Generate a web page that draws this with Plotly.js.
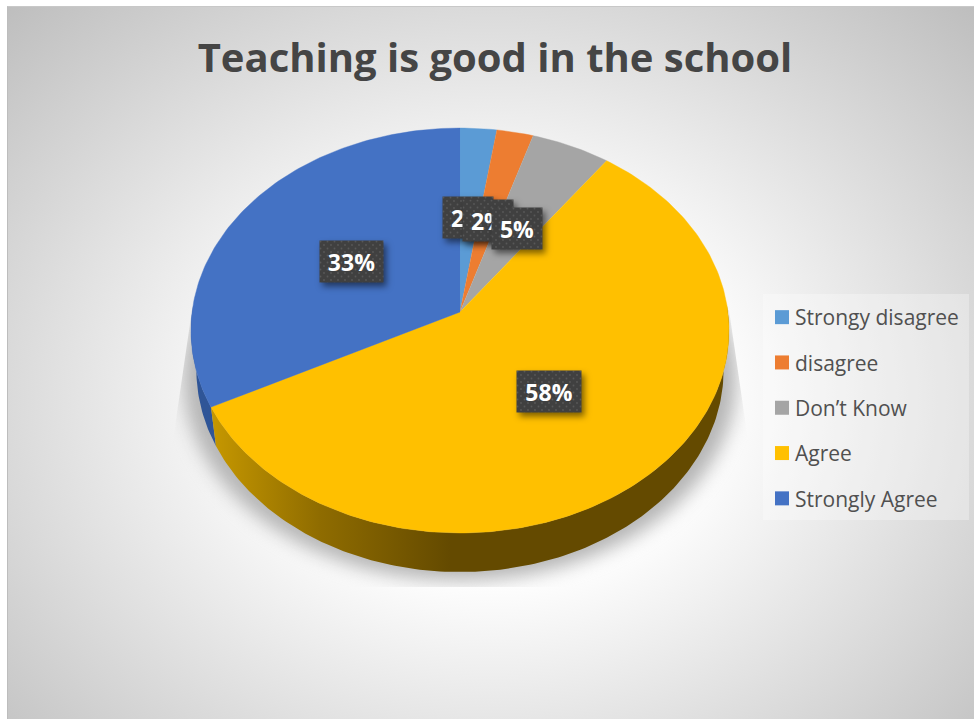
<!DOCTYPE html>
<html>
<head>
<meta charset="utf-8">
<script src="https://cdn.plot.ly/plotly-3.0.1.min.js"></script>
<style>
html,body{margin:0;padding:0;background:#fff;overflow:hidden}
#bg{position:absolute;left:7px;top:6px;width:967px;height:713px;border-left:1.5px solid #bdbdbd;border-top:1.5px solid #c8c8c8;box-sizing:border-box;
background:radial-gradient(ellipse farthest-corner at 50% 55%,#ffffff 0%,#ffffff 32%,#bebebe 100%)}
#chart{position:absolute;left:0;top:0;width:974px;height:719px}
</style>
</head>
<body>
<div id="bg"></div>
<div id="chart"></div>
<script>
// Chart data
const categories = ['Strongy disagree', 'disagree', 'Don’t Know', 'Agree', 'Strongly Agree'];
const shares = [2.4, 2.4, 5.2, 57.5, 32.5];
const labelText = ['2%', '2%', '5%', '58%', '33%'];
const colors = ['#5B9BD5', '#ED7D31', '#A5A5A5', '#FFC000', '#4472C4'];

// Label box centres and widths in page pixels
const labelX = [468, 488, 517, 549, 351];
const labelY = [217, 220, 228, 391, 261];
const labelW = [50, 50, 50, 64, 63];

// Tilted disc geometry
const cx = 460, cy = 312, A = 267.9, B = 200.8, P = 0.0914, depth = 39, shrink = 0.98;
const project = (deg, bottom) => {
  const t = deg * Math.PI / 180, u = Math.sin(t), v = -Math.cos(t), d = 1 - P * v;
  const k = bottom ? shrink : 1;
  return [cx + k * A * u / d, cy + B * v / d + (bottom ? depth : 0)];
};
const arc = (from, to, bottom) => {
  const pts = [], n = Math.max(2, Math.ceil(Math.abs(to - from)));
  for (let i = 0; i <= n; i++) pts.push(project(from + (to - from) * i / n, bottom));
  return pts;
};
const poly = (pts, extra) => Object.assign({
  type: 'scatter', mode: 'lines', x: pts.map(p => p[0]), y: pts.map(p => p[1]),
  fill: 'toself', hoverinfo: 'skip', showlegend: false
}, extra);

const total = shares.reduce((a, b) => a + b, 0);
let running = 0;
const edges = shares.map(s => { const e = [running, running + s * 360 / total]; running = e[1]; return e; });

const traces = [];

// Soft ground shadow
const shadowPts = arc(0, 360, true).map(p => [cx + (p[0] - cx) * 1.05, p[1] + 9]);
traces.push(poly(shadowPts, {fillcolor: '#b6b6b6', line: {width: 0}}));

// Side wall
const agreeEdge = edges[3], blueEdge = edges[4];
traces.push(poly(arc(blueEdge[0], 272, false).concat(arc(272, blueEdge[0], true)),
  {fillcolor: '#2F5597', line: {width: 0}}));
traces.push(poly(arc(88, agreeEdge[1], false).concat(arc(agreeEdge[1], 88, true)), {
  line: {width: 0},
  fillcolor: '#634A00',
  fillgradient: {type: 'horizontal', start: 213, stop: 450,
    colorscale: [[0, '#C59700'], [0.45, '#8F6C00'], [1, '#644A00']]}
}));

// Top face
edges.forEach((e, i) => {
  traces.push(poly([[cx, cy]].concat(arc(e[0], e[1], false)), {
    fillcolor: colors[i], line: {color: colors[i], width: 0.4}
  }));
});

// Legend entries
categories.forEach((c, i) => {
  traces.push({
    type: 'scatter', mode: 'markers', x: [null], y: [null], name: c, legendgroup: 'g' + i,
    marker: {symbol: 'square', size: 14, color: colors[i]}, hoverinfo: 'skip'
  });
});

const annotations = labelText.map((t, i) => ({
  xref: 'x', yref: 'y', x: labelX[i], y: labelY[i], text: '<b>' + t + '</b>', showarrow: false,
  bgcolor: '#404040', width: labelW[i], height: 41, borderpad: 0,
  font: {family: 'Open Sans', size: 23, color: '#ffffff'}, xanchor: 'center', yanchor: 'middle'
}));

const layout = {
  width: 974, height: 719, margin: {l: 0, r: 0, t: 0, b: 0},
  paper_bgcolor: 'rgba(0,0,0,0)', plot_bgcolor: 'rgba(0,0,0,0)',
  title: {text: '<b>Teaching is good in the school</b>', x: 495 / 974, xref: 'paper', xanchor: 'center',
    y: 1 - 58 / 719, yref: 'container', yanchor: 'middle',
    font: {family: 'Open Sans', size: 40, color: '#454545'}},
  xaxis: {range: [0, 974], visible: false, fixedrange: true},
  yaxis: {range: [719, 0], visible: false, fixedrange: true},
  showlegend: true,
  legend: {x: 755 / 974, xanchor: 'left', y: 1 - 297 / 719, yanchor: 'top', bgcolor: 'rgba(0,0,0,0)',
    font: {family: 'Open Sans', size: 21, color: '#505050'}, tracegroupgap: 15, itemclick: false, itemdoubleclick: false},
  shapes: [{type: 'rect', xref: 'x', yref: 'y', x0: 763, x1: 969, y0: 294, y1: 520,
    fillcolor: 'rgba(255,255,255,0.3)', line: {width: 0}, layer: 'below'}],
  annotations: annotations,
  hovermode: false
};

Plotly.newPlot('chart', traces, layout, {displayModeBar: false, staticPlot: false}).then(gd => {
  const svg = gd.querySelector('.main-svg');
  // shadow softening, cut to the wedge the reference shows
  const shadow = gd.querySelector('.scatterlayer .trace');
  const NS = 'http://www.w3.org/2000/svg';
  const wrap = document.createElementNS(NS, 'g');
  shadow.parentNode.insertBefore(wrap, shadow);
  wrap.appendChild(shadow);
  shadow.style.filter = 'blur(9px)';
  const defs = svg.querySelector('defs');
  const cp = document.createElementNS(NS, 'clipPath');
  cp.id = 'shadowcut';
  const pg = document.createElementNS(NS, 'polygon');
  pg.setAttribute('points', '192,310 173,440 173,587 748,587 748,440 729,310');
  cp.appendChild(pg);
  defs.appendChild(cp);
  wrap.setAttribute('clip-path', 'url(#shadowcut)');
  // dotted texture on the label boxes
  const pat = document.createElementNS(NS, 'pattern');
  pat.id = 'dots';
  pat.setAttribute('width', 7); pat.setAttribute('height', 7);
  pat.setAttribute('patternUnits', 'userSpaceOnUse');
  pat.innerHTML = '<rect width="7" height="7" fill="#404040"/><circle cx="1.5" cy="1.5" r="0.9" fill="#585858"/><circle cx="5" cy="5" r="0.9" fill="#585858"/>';
  defs.appendChild(pat);
  gd.querySelectorAll('.annotation-text-g rect.bg').forEach(r => {
    r.style.fill = 'url(#dots)';
    r.style.filter = 'drop-shadow(3px 4px 3px rgba(0,0,0,0.5))';
  });
  // legend swatch sits closer to its text
  gd.querySelectorAll('.legend .legendsymbols').forEach(s => s.setAttribute('transform', 'translate(7,0)'));
});
</script>
</body>
</html>
